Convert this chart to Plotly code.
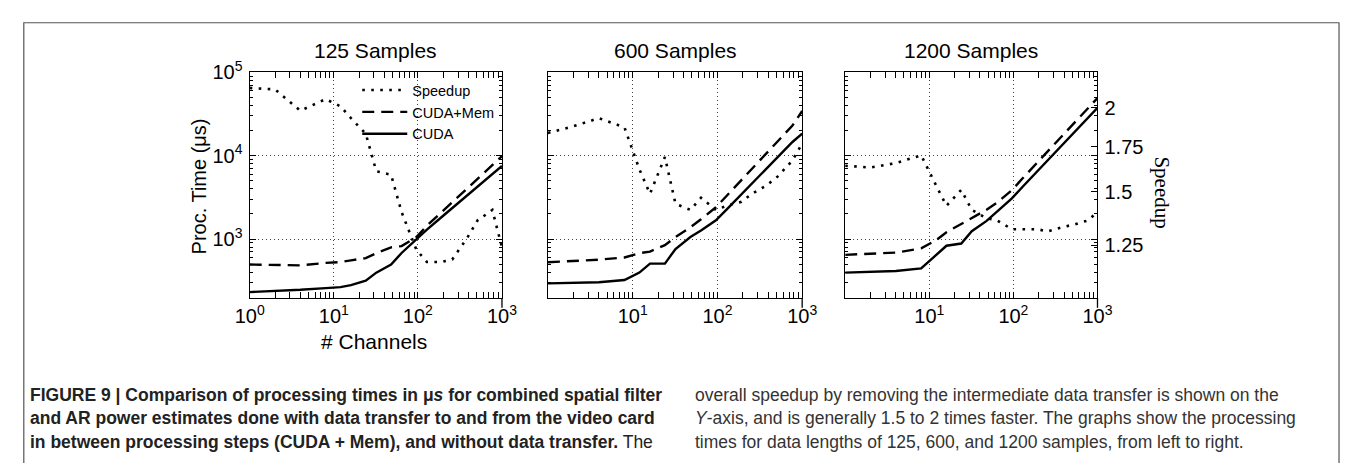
import plotly.graph_objects as go

# ---------------- data ----------------
channels = [1, 2, 4, 8, 12, 16, 24, 32, 48, 64, 96, 128, 192, 256, 384, 512, 768, 1000]

p125_cuda = [231, 236, 246, 258, 265, 280, 316, 395, 494, 680, 1000, 1294, 1836, 2336, 3304, 4245, 5957, 7516]
p125_mem = [494, 490, 483, 517, 530, 555, 590, 676, 794, 822, 1054, 1443, 2097, 2740, 4027, 5250, 7680, 9818]
p125_speed = [2.14, 2.13, 1.98, 2.06, 2.01, 1.93, 1.83, 1.61, 1.59, 1.40, 1.23, 1.18, 1.18, 1.19, 1.28, 1.36, 1.41, 1.24]

p600_cuda = [294, 296, 303, 322, 396, 507, 507, 759, 1054, 1261, 1679, 2254, 3428, 4600, 7063, 9568, 14560, 18350]
p600_mem = [526, 540, 565, 601, 675, 707, 843, 1054, 1380, 1722, 2399, 3280, 5120, 7000, 10930, 14940, 22900, 34270]
p600_speed = [1.835, 1.877, 1.93, 1.87, 1.62, 1.49, 1.69, 1.44, 1.41, 1.47, 1.41, 1.43, 1.45, 1.49, 1.535, 1.58, 1.67, 1.77]

p1200_cuda = [395, 403, 413, 444, 646, 830, 883, 1239, 1648, 2153, 3073, 4204, 6457, 8830, 13680, 18490, 28380, 37500]
p1200_mem = [646, 664, 687, 772, 964, 1205, 1510, 1800, 2240, 2740, 3845, 5310, 8220, 11140, 17380, 23750, 36800, 49000]
p1200_speed = [1.64, 1.63, 1.655, 1.70, 1.535, 1.43, 1.51, 1.41, 1.37, 1.36, 1.32, 1.32, 1.32, 1.31, 1.33, 1.34, 1.36, 1.40]

panel_titles = ["125 Samples", "600 Samples", "1200 Samples"]
x_tickvals = [1, 10, 100, 1000]
x_ticktext_first = ["10<sup>0</sup>", "10<sup>1</sup>", "10<sup>2</sup>", "10<sup>3</sup>"]
x_ticktext_other = ["", "10<sup>1</sup>", "10<sup>2</sup>", "10<sup>3</sup>"]
y_tickvals = [1000, 10000, 100000]
y_ticktext = ["10<sup>3</sup>", "10<sup>4</sup>", "10<sup>5</sup>"]
speed_tickvals = [1.25, 1.5, 1.75, 2]
speed_ticktext = ["1.25", "1.5", "1.75", "2"]
x_minor_ticks = [m * 10 ** d for d in range(0, 3) for m in range(2, 10)]
y_minor_ticks = [m * 10 ** d for d in range(2, 5) for m in range(2, 10)]

# ---------------- layout helpers ----------------
W, H = 1355, 463
def fx(p):
    return p / W
def fy(p):
    return 1 - p / H

panel_px = [(240, 498), (545, 805), (849, 1107)]
ydom = [fy(293), fy(60)]
FONT = "Liberation Sans, Arial, sans-serif"

fig = go.Figure()
series = [(p125_cuda, p125_mem, p125_speed), (p600_cuda, p600_mem, p600_speed),
          (p1200_cuda, p1200_mem, p1200_speed)]

for i, (cuda, mem, speed) in enumerate(series):
    xa = "x" if i == 0 else f"x{i+1}"
    ya = "y" if i == 0 else f"y{i+1}"
    ys = f"y{i+4}"
    show = i == 0
    fig.add_trace(go.Scatter(x=channels, y=speed, xaxis=xa, yaxis=ys, mode="lines",
                             name="Speedup", showlegend=show,
                             line=dict(color="black", width=2.6, dash="2.6px,6.4px")))
    fig.add_trace(go.Scatter(x=channels, y=mem, xaxis=xa, yaxis=ya, mode="lines",
                             name="CUDA+Mem", showlegend=show,
                             line=dict(color="black", width=2.4, dash="12px,7px")))
    fig.add_trace(go.Scatter(x=channels, y=cuda, xaxis=xa, yaxis=ya, mode="lines",
                             name="CUDA", showlegend=show,
                             line=dict(color="black", width=2.4)))

common = dict(type="log", showline=True, linecolor="black", linewidth=1.3,
              mirror="allticks", ticks="inside", ticklen=6, tickcolor="black", tickwidth=1,
              showgrid=True, gridcolor="#444", gridwidth=1, griddash="1px,3px",
              zeroline=False, tickfont=dict(family=FONT, size=20, color="black"))

layout = dict(width=W, height=H, margin=dict(l=0, r=0, t=0, b=0),
              paper_bgcolor="white", plot_bgcolor="white", showlegend=True)

for i, (x0, x1) in enumerate(panel_px):
    xk = "xaxis" if i == 0 else f"xaxis{i+1}"
    yk = "yaxis" if i == 0 else f"yaxis{i+1}"
    ya_id = "y" if i == 0 else f"y{i+1}"
    xa_id = "x" if i == 0 else f"x{i+1}"
    layout[xk] = dict(common, domain=[fx(x0), fx(x1)], range=[0, 3], anchor=ya_id,
                      tickvals=x_tickvals,
                      ticktext=x_ticktext_first if i == 0 else x_ticktext_other,
                      minor=dict(tickmode="array", tickvals=x_minor_ticks, ticks="inside",
                                 ticklen=3, tickcolor="black", showgrid=False))
    layout[yk] = dict(common, domain=ydom, range=[2.291, 5], anchor=xa_id,
                      tickvals=y_tickvals, ticktext=y_ticktext, showticklabels=(i == 0),
                      ticklabelstandoff=2,
                      minor=dict(tickmode="array", tickvals=y_minor_ticks, ticks="inside",
                                 ticklen=3, tickcolor="black", showgrid=False))
    sk = f"yaxis{i+4}"
    sp = dict(type="log", range=[0.0181, 0.3539], overlaying=ya_id, anchor=xa_id,
              side="right", showgrid=False, zeroline=False)
    if i < 2:
        sp["visible"] = False
    else:
        sp.update(tickvals=speed_tickvals, ticktext=speed_ticktext, ticks="inside",
                  ticklen=6, tickcolor="black", showline=False, ticklabelstandoff=6,
                  tickfont=dict(family=FONT, size=20, color="black"))
    layout[sk] = sp

layout["legend"] = dict(x=fx(350), y=fy(62), xanchor="left", yanchor="top",
                        bgcolor="rgba(0,0,0,0)", font=dict(family=FONT, size=14.5, color="black"),
                        tracegroupgap=0, itemwidth=45)

annotations = []
for i, (x0, x1) in enumerate(panel_px):
    annotations.append(dict(text=panel_titles[i], x=fx((x0 + x1) / 2), y=fy(38),
                            xref="paper", yref="paper", showarrow=False,
                            xanchor="center", yanchor="middle",
                            font=dict(family=FONT, size=21, color="black")))
annotations.append(dict(text="# Channels", x=fx(367), y=fy(338), xref="paper", yref="paper",
                        showarrow=False, xanchor="center", yanchor="middle",
                        font=dict(family=FONT, size=21, color="black")))
annotations.append(dict(text="Proc. Time (μs)", x=fx(188), y=fy(178), xref="paper", yref="paper",
                        showarrow=False, xanchor="center", yanchor="middle", textangle=-90,
                        font=dict(family=FONT, size=20, color="black")))
annotations.append(dict(text="Speedup", x=fx(1173), y=fy(184), xref="paper", yref="paper",
                        showarrow=False, xanchor="center", yanchor="middle", textangle=90,
                        font=dict(family="Liberation Serif, Times New Roman, serif", size=21,
                                  color="black")))

CAP = "Liberation Sans, Arial, sans-serif"
left_lines = [
    "<b>FIGURE 9 | Comparison of processing times in μ<i>s</i> for combined spatial filter</b>",
    "<b>and AR power estimates done with data transfer to and from the video card</b>",
    "<b>in between processing steps (CUDA + Mem), and without data transfer.</b> The",
]
right_lines = [
    "overall speedup by removing the intermediate data transfer is shown on the",
    "<i>Y</i>-axis, and is generally 1.5 to 2 times faster. The graphs show the processing",
    "times for data lengths of 125, 600, and 1200 samples, from left to right.",
]
line_y = [393, 417, 441]
for k in range(3):
    annotations.append(dict(text=left_lines[k], x=fx(13), y=fy(line_y[k]), xref="paper",
                            yref="paper", showarrow=False, xanchor="left", yanchor="middle",
                            font=dict(family=CAP, size=17.5, color="#222")))
    annotations.append(dict(text=right_lines[k], x=fx(693), y=fy(line_y[k]), xref="paper",
                            yref="paper", showarrow=False, xanchor="left", yanchor="middle",
                            font=dict(family=CAP, size=17.5, color="#333")))
layout["annotations"] = annotations

shapes = [dict(type="rect", xref="paper", yref="paper", x0=fx(9), x1=fx(1354),
               y0=-0.2, y1=fy(9), line=dict(color="#555", width=1.2))]
for i in range(3):
    xr = "x domain" if i == 0 else f"x{i+1} domain"
    yr = "y domain" if i == 0 else f"y{i+1} domain"
    shapes.append(dict(type="line", xref=xr, yref=yr, x0=1, x1=1, y0=0, y1=-10 / 233,
                       line=dict(color="black", width=1.3)))
layout["shapes"] = shapes

fig.update_layout(**layout)
fig.write_html("out.html", post_script="document.body.style.margin='0px';")
